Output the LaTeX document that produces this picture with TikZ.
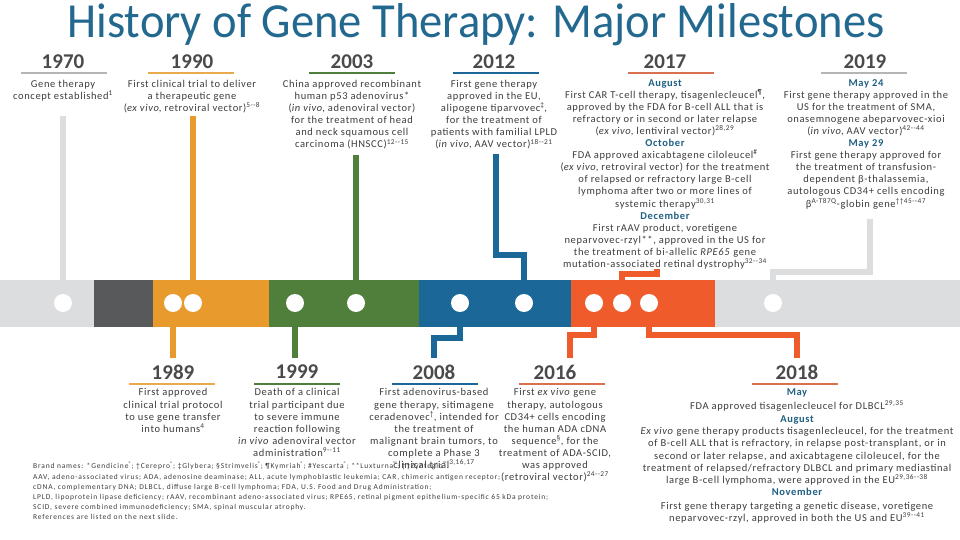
\documentclass[tikz,border=0pt]{standalone}
\usepackage{fontspec}
\setmainfont{Carlito}
\newfontfamily\bodyfont[LetterSpace=6]{Carlito}
\newfontfamily\notefont[LetterSpace=11]{Carlito}
\usetikzlibrary{positioning}
\definecolor{bandgray}{HTML}{DCDDDE}
\definecolor{banddark}{HTML}{58595B}
\definecolor{bandorange}{HTML}{E99A2C}
\definecolor{bandgreen}{HTML}{4F7F3B}
\definecolor{bandblue}{HTML}{1B6797}
\definecolor{bandred}{HTML}{EF5B2B}
\definecolor{titleblue}{HTML}{22688F}
\definecolor{monthblue}{HTML}{1F5F82}
\definecolor{yeargray}{HTML}{4A4A4C}
\definecolor{bodygray}{HTML}{3C3C3C}
\definecolor{linegray}{HTML}{B5B5B5}
\definecolor{lineorange}{HTML}{E8AA4C}
\definecolor{linered}{HTML}{D9714E}
\newcommand{\monthtext}[1]{{\bfseries\color{monthblue}#1}}

\begin{document}
\begin{tikzpicture}[
  x=1pt, y=-1pt,
  yearlabel/.style={font=\fontsize{21}{21}\selectfont\bfseries, text=yeargray, inner sep=0pt},
  yearbar/.style={rectangle, fill=#1, minimum width=86pt, minimum height=2.5pt, inner sep=0pt},
  infotext/.style={font=\bodyfont\fontsize{10.5}{12.1}\selectfont, text=bodygray, align=center, inner sep=0pt, anchor=north},
  dot/.style={circle, fill=white, minimum size=18pt, inner sep=0pt},
  stem/.style={line width=6pt, draw=#1},
]
\useasboundingbox (0,0) rectangle (960,540);

\node (title) at (476,25) {\color{titleblue}\resizebox{817pt}{34pt}{\fontsize{40}{40}\selectfont History of Gene Therapy: Major Milestones}};

% timeline band
\fill[bandgray] (0,280) rectangle (94,327);
\fill[banddark] (94,280) rectangle (153,327);
\fill[bandorange] (153,280) rectangle (269,327);
\fill[bandgreen] (269,280) rectangle (419,327);
\fill[bandblue] (419,280) rectangle (571,327);
\fill[bandred] (571,280) rectangle (715,327);
\fill[bandgray] (715,280) rectangle (960,327);

\node[dot] (d1970) at (63,303) {};
\node[dot] (d1989) at (173,303) {};
\node[dot] (d1990) at (193,303) {};
\node[dot] (d1999) at (295,303) {};
\node[dot] (d2003) at (356,303) {};
\node[dot] (d2008) at (460,303) {};
\node[dot] (d2012) at (524,303) {};
\node[dot] (d2016) at (594,303) {};
\node[dot] (d2017) at (622,303) {};
\node[dot] (d2018) at (649,303) {};
\node[dot] (d2019) at (773,303) {};

% years above
\node[yearlabel] (y1970) at (63,62) {1970};
\node[yearlabel] (y1990) at (192,62) {1990};
\node[yearlabel] (y2003) at (352,62) {2003};
\node[yearlabel] (y2012) at (494,62) {2012};
\node[yearlabel] (y2017) at (665,62) {2017};
\node[yearlabel] (y2019) at (865,62) {2019};
\node[yearbar=linegray] (u1970) at (64,73) {};
\node[yearbar=lineorange] (u1990) at (191,73) {};
\node[yearbar=bandgreen] (u2003) at (352,73) {};
\node[yearbar=bandblue] (u2012) at (496,73) {};
\node[yearbar=linered] (u2017) at (671,73) {};
\node[yearbar=linegray] (u2019) at (864,73) {};

\node[infotext] (t1970) at (63,80) {Gene therapy\\concept established\textsuperscript{1}};
\node[infotext] (t1990) at (192,80) {First clinical trial to deliver\\a therapeutic gene\\(\emph{ex vivo}, retroviral vector)\textsuperscript{5--8}};
\node[infotext] (t2003) at (352,80) {China approved recombinant\\human p53 adenovirus*\\(\emph{in vivo}, adenoviral vector)\\for the treatment of head\\and neck squamous cell\\carcinoma (HNSCC)\textsuperscript{12--15}};
\node[infotext] (t2012) at (494,80) {First gene therapy\\approved in the EU,\\alipogene tiparvovec\textsuperscript{‡},\\for the treatment of\\patients with familial LPLD\\(\emph{in vivo}, AAV vector)\textsuperscript{18--21}};
\node[infotext] (t2017) at (665,79) {\monthtext{August}\\First CAR T-cell therapy, tisagenlecleucel\textsuperscript{¶},\\approved by the FDA for B-cell ALL that is\\refractory or in second or later relapse\\(\emph{ex vivo}, lentiviral vector)\textsuperscript{28,29}\\\monthtext{October}\\FDA approved axicabtagene ciloleucel\textsuperscript{\#}\\(\emph{ex vivo}, retroviral vector) for the treatment\\of relapsed or refractory large B-cell\\lymphoma after two or more lines of\\systemic therapy\textsuperscript{30,31}\\\monthtext{December}\\First rAAV product, voretigene\\neparvovec-rzyl**, approved in the US for\\the treatment of bi-allelic \emph{RPE65} gene\\mutation-associated retinal dystrophy\textsuperscript{32--34}};
\node[infotext] (t2019) at (866,79) {\monthtext{May 24}\\First gene therapy approved in the\\US for the treatment of SMA,\\onasemnogene abeparvovec-xioi\\(\emph{in vivo}, AAV vector)\textsuperscript{42--44}\\\monthtext{May 29}\\First gene therapy approved for\\the treatment of transfusion-\\dependent β-thalassemia,\\autologous CD34+ cells encoding\\β\textsuperscript{A-T87Q}-globin gene\textsuperscript{††45--47}};

% years below
\node[yearlabel] (y1989) at (173,372) {1989};
\node[yearlabel] (y1999) at (297,372) {1999};
\node[yearlabel] (y2008) at (434,372) {2008};
\node[yearlabel] (y2016) at (555,372) {2016};
\node[yearlabel] (y2018) at (797,372) {2018};
\node[yearbar=lineorange] (u1989) at (172,384) {};
\node[yearbar=bandgreen] (u1999) at (297,384) {};
\node[yearbar=bandblue] (u2008) at (435,384) {};
\node[yearbar=linered] (u2016) at (562,384) {};
\node[yearbar=linered] (u2018) at (795,384) {};

\node[infotext] (t1989) at (173,388.5) {First approved\\clinical trial protocol\\to use gene transfer\\into humans\textsuperscript{4}};
\node[infotext] (t1999) at (297,388.5) {Death of a clinical\\trial participant due\\to severe immune\\reaction following\\\emph{in vivo} adenoviral vector\\administration\textsuperscript{9--11}};
\node[infotext] (t2008) at (434,388.5) {First adenovirus-based\\gene therapy, sitimagene\\ceradenovec\textsuperscript{†}, intended for\\the treatment of\\malignant brain tumors, to\\complete a Phase 3\\clinical trial\textsuperscript{3,16,17}};
\node[infotext] (t2016) at (555,388.5) {First \emph{ex vivo} gene\\therapy, autologous\\CD34+ cells encoding\\the human ADA cDNA\\sequence\textsuperscript{§}, for the\\treatment of ADA-SCID,\\was approved\\(retroviral vector)\textsuperscript{24--27}};
\node[infotext] (t2018) at (797,388) {\monthtext{May}\\[2pt]FDA approved tisagenlecleucel for DLBCL\textsuperscript{29,35}\\[1.5pt]\monthtext{August}\\\emph{Ex vivo} gene therapy products tisagenlecleucel, for the treatment\\of B-cell ALL that is refractory, in relapse post-transplant, or in\\second or later relapse, and axicabtagene ciloleucel, for the\\treatment of relapsed/refractory DLBCL and primary mediastinal\\large B-cell lymphoma, were approved in the EU\textsuperscript{29,36--38}\\[0.5pt]\monthtext{November}\\[1.5pt]First gene therapy targeting a genetic disease, voretigene\\neparvovec-rzyl, approved in both the US and EU\textsuperscript{39--41}};

\node[anchor=north west, align=left, inner sep=0pt, text=bodygray, font=\notefont\fontsize{7.5}{10.2}\selectfont] (notes) at (33,462) {Brand names: *Gendicine\textsuperscript{®}; †Cerepro\textsuperscript{®}; ‡Glybera; §Strimvelis\textsuperscript{®}; ¶Kymriah\textsuperscript{®}; \#Yescarta\textsuperscript{®}; **Luxturna\textsuperscript{™}; ††Zynteglo\textsuperscript{™}.\\AAV, adeno-associated virus; ADA, adenosine deaminase; ALL, acute lymphoblastic leukemia; CAR, chimeric antigen receptor;\\cDNA, complementary DNA; DLBCL, diffuse large B-cell lymphoma; FDA, U.S. Food and Drug Administration;\\LPLD, lipoprotein lipase deficiency; rAAV, recombinant adeno-associated virus; RPE65, retinal pigment epithelium-specific 65 kDa protein;\\SCID, severe combined immunodeficiency; SMA, spinal muscular atrophy.\\References are listed on the next slide.};

% connectors
\coordinate (s1970) at (63,116);
\coordinate (s1990) at (193,116);
\coordinate (s2003) at (356,155);
\coordinate (s2012) at (496,154);
\coordinate (j2012) at (524,255);
\coordinate (s2017) at (657,269);
\coordinate (j2017) at (622,274);
\coordinate (s2019) at (870,219);
\coordinate (j2019) at (773,272);
\coordinate (e1989) at (173,358);
\coordinate (e1999) at (295,358);
\coordinate (j2008) at (434,338);
\coordinate (e2008) at (434,358);
\coordinate (j2016) at (570,335);
\coordinate (e2016) at (570,358);
\coordinate (j2018) at (797,335);
\coordinate (e2018) at (797,358);
\draw[stem=bandgray] (s1970) -- (d1970);
\draw[stem=bandorange] (s1990) -- (d1990);
\draw[stem=bandgreen] (s2003) -- (d2003);
\draw[stem=bandblue] (s2012) |- (j2012) -- (d2012);
\draw[stem=bandred] (s2017) |- (j2017) -- (d2017);
\draw[stem=bandgray] (s2019) |- (j2019) -- (d2019);
\draw[stem=bandorange] (d1989) -- (e1989);
\draw[stem=bandgreen] (d1999) -- (e1999);
\draw[stem=bandblue] (d2008) |- (j2008) -- (e2008);
\draw[stem=bandred] (d2016) |- (j2016) -- (e2016);
\draw[stem=bandred] (d2018) |- (j2018) -- (e2018);

\end{tikzpicture}
\end{document}
